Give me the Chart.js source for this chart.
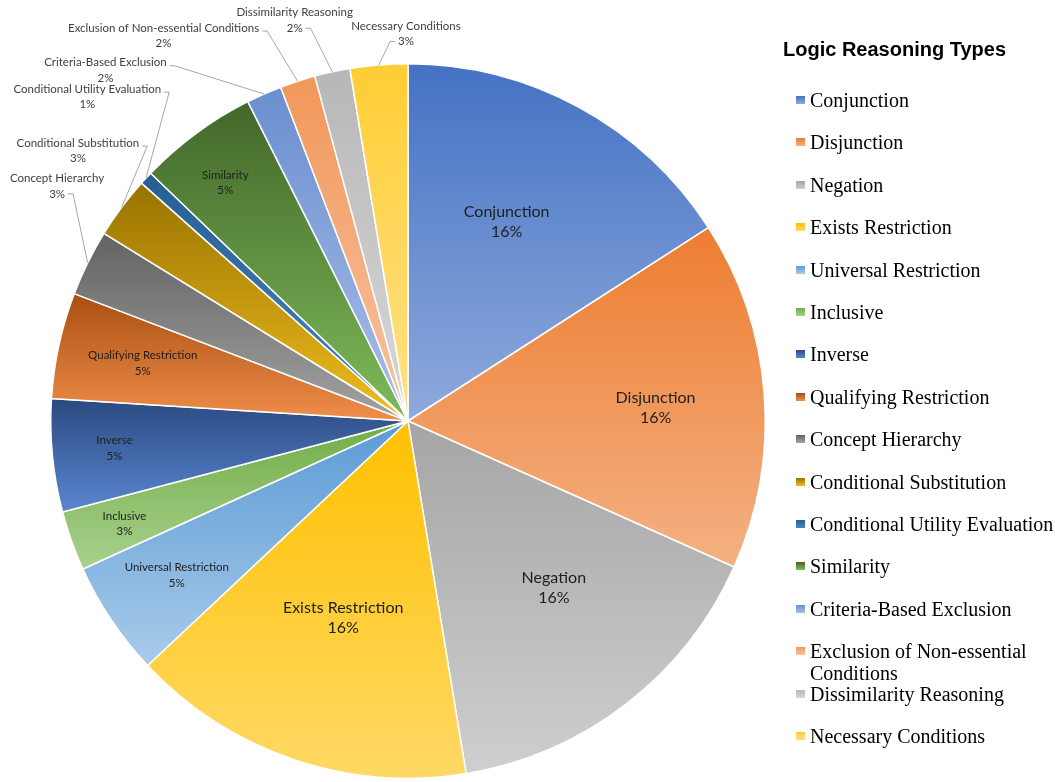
<!DOCTYPE html>
<html>
<head>
<meta charset="utf-8">
<title>Logic Reasoning Types</title>
<script src="https://cdn.jsdelivr.net/npm/chart.js@4.4.1/dist/chart.umd.min.js"></script>
<style>
  html, body { margin: 0; padding: 0; background: #fff; }
  #wrap { position: relative; width: 1055px; height: 782px; overflow: hidden; }
  #pie { position: absolute; left: 0; top: 0; }
  .legend-title {
    position: absolute; left: 783px; top: 37px;
    font: bold 20px "Liberation Sans", Arial, sans-serif; line-height: 24px;
    color: #000; white-space: nowrap;
  }
  .legend-item {
    position: absolute; left: 796px; width: 259px;
    font: 20px "Liberation Serif", "Times New Roman", serif; line-height: 22px; color: #000;
  }
  .legend-item .box { position: absolute; left: 0; top: 7px; width: 9px; height: 8px; }
  .legend-item .txt { display: block; margin-left: 14px; width: 246px; }
</style>
</head>
<body>
<div id="wrap">
  <canvas id="pie" width="1055" height="782"></canvas>
  <div id="legend"></div>
</div>
<script>
document.addEventListener('DOMContentLoaded', function () {
    const categories = [
        'Conjunction', 'Disjunction', 'Negation', 'Exists Restriction',
        'Universal Restriction', 'Inclusive', 'Inverse', 'Qualifying Restriction',
        'Concept Hierarchy', 'Conditional Substitution', 'Conditional Utility Evaluation',
        'Similarity', 'Criteria-Based Exclusion', 'Exclusion of Non-essential Conditions',
        'Dissimilarity Reasoning', 'Necessary Conditions'
    ];
    // share of each reasoning type (%)
    const shares = [15.9, 15.8, 15.7, 15.6, 5.2, 2.7, 5.1, 4.8, 3.0, 2.8, 0.6, 5.4, 1.6, 1.6, 1.6, 2.6];

    // gradient colours: top of slice -> bottom of slice
    const shadeColors = [
        '#4472C4', '#ED7D31', '#A5A5A5', '#FFC000', '#5B9BD5', '#70AD47', '#2A4A80', '#A94F12',
        '#636363', '#987200', '#255E91', '#42672A', '#6A8FD0', '#F1975A', '#B7B7B7', '#FFCD33'
    ];
    const tintColors = [
        '#8FAADC', '#F4B183', '#CFCFCF', '#FFD966', '#A9CBEA', '#A9D18E', '#5B86D2', '#F08E4A',
        '#A3A3A3', '#F0BE1E', '#4A86C0', '#7EBB5A', '#A9BEE8', '#F8C4A2', '#D8D8D8', '#FFE28A'
    ];

    // where each data label sits: [degrees clockwise from 12 o'clock, fraction of radius]
    const labelLayout = [
        { at: [26.4, 0.621], big: true },
        { at: [86.9, 0.694], big: true },
        { at: [138.9, 0.621], big: true },
        { at: [198.2, 0.581], big: true },
        { at: [236.3, 0.778] },
        { at: [250.1, 0.844] },
        { at: [264.7, 0.825] },
        { at: [282.3, 0.760] },
        { at: [303.8, 1.182], leader: 'r2' },
        { at: [309.3, 1.194], leader: 'r1' },
        { at: [315.3, 1.276], leader: 'r1' },
        { at: [322.5, 0.840] },
        { at: [319.2, 1.296], leader: 'r1' },
        { at: [327.6, 1.277], leader: 'r1' },
        { at: [344.2, 1.165], leader: 'r2' },
        { at: [359.7, 1.084], leader: 'l2' }
    ];

    const TAU = Math.PI * 2;
    const total = shares.reduce((a, b) => a + b, 0);

    // vertical linear gradient spanning each slice's own height
    function sliceGradient(context) {
        const chart = context.chart;
        const i = context.dataIndex;
        const area = chart.chartArea;
        if (!area || i === undefined) return shadeColors[i || 0];
        const cx = (area.left + area.right) / 2;
        const cy = (area.top + area.bottom) / 2;
        const r = Math.min(area.right - area.left, area.bottom - area.top) / 2;
        let before = 0;
        for (let k = 0; k < i; k++) before += shares[k];
        const a0 = before / total * TAU;
        const a1 = (before + shares[i]) / total * TAU;
        const ys = [cy, cy - r * Math.cos(a0), cy - r * Math.cos(a1)];
        if (a0 <= 1e-6 || a1 >= TAU - 1e-6) ys.push(cy - r);
        if (a0 < Math.PI && a1 > Math.PI) ys.push(cy + r);
        const g = chart.ctx.createLinearGradient(0, Math.min(...ys), 0, Math.max(...ys));
        g.addColorStop(0, shadeColors[i]);
        g.addColorStop(1, tintColors[i]);
        return g;
    }

    const sliceLabels = {
        id: 'sliceLabels',
        afterDatasetsDraw(chart) {
            const ctx = chart.ctx;
            const arcs = chart.getDatasetMeta(0).data;
            ctx.save();
            ctx.textAlign = 'center';
            ctx.textBaseline = 'middle';
            arcs.forEach((arc, i) => {
                const spec = labelLayout[i];
                const R = arc.outerRadius;
                const deg = spec.at[0] * Math.PI / 180;
                const x = arc.x + R * spec.at[1] * Math.sin(deg);
                const y = arc.y - R * spec.at[1] * Math.cos(deg);
                const pct = Math.round(shares[i] / total * 100) + '%';
                const lh = spec.big ? 20 : 15.5;
                ctx.font = spec.big ? '16px Lato' : '11.5px Lato';
                ctx.fillStyle = spec.leader ? '#404040' : '#1e1e1e';
                const y1 = y - lh / 2;
                const y2 = y + lh / 2;
                ctx.fillText(categories[i], x, y1);
                ctx.fillText(pct, x, y2);

                if (spec.leader) {
                    const w1 = ctx.measureText(categories[i]).width;
                    const w2 = ctx.measureText(pct).width;
                    const mid = (arc.startAngle + arc.endAngle) / 2;
                    const px = arc.x + R * Math.cos(mid);
                    const py = arc.y + R * Math.sin(mid);
                    let ax, ay, dir;
                    if (spec.leader === 'r1') { ax = x + w1 / 2 + 3; ay = y1 + 3; dir = 1; }
                    else if (spec.leader === 'r2') { ax = x + w2 / 2 + 3; ay = y2; dir = 1; }
                    else { ax = x - w2 / 2 - 3; ay = y2; dir = -1; }
                    ctx.strokeStyle = '#a6a6a6';
                    ctx.lineWidth = 1;
                    ctx.beginPath();
                    ctx.moveTo(ax, ay);
                    ctx.lineTo(ax + dir * 5, ay);
                    ctx.lineTo(px, py);
                    ctx.stroke();
                }
            });
            ctx.restore();
        }
    };

    const chart = new Chart(document.getElementById('pie').getContext('2d'), {
        type: 'pie',
        data: {
            labels: categories,
            datasets: [{
                data: shares,
                backgroundColor: sliceGradient,
                borderColor: '#ffffff',
                borderWidth: 1.5
            }]
        },
        options: {
            responsive: false,
            animation: false,
            events: [],
            layout: { padding: { left: 50, top: 63, right: 289, bottom: 3 } },
            plugins: {
                legend: { display: false },
                tooltip: { enabled: false }
            }
        },
        plugins: [sliceLabels]
    });

    // legend column on the right
    const legend = document.getElementById('legend');
    const title = document.createElement('div');
    title.className = 'legend-title';
    title.textContent = 'Logic Reasoning Types';
    legend.appendChild(title);
    chart.data.labels.forEach((name, i) => {
        const item = document.createElement('div');
        item.className = 'legend-item';
        item.style.top = (89 + i * 42.4) + 'px';
        const box = document.createElement('span');
        box.className = 'box';
        box.style.background = 'linear-gradient(to bottom, ' + shadeColors[i] + ', ' + tintColors[i] + ')';
        const txt = document.createElement('span');
        txt.className = 'txt';
        txt.textContent = name;
        item.appendChild(box);
        item.appendChild(txt);
        legend.appendChild(item);
    });
});
</script>
</body>
</html>
